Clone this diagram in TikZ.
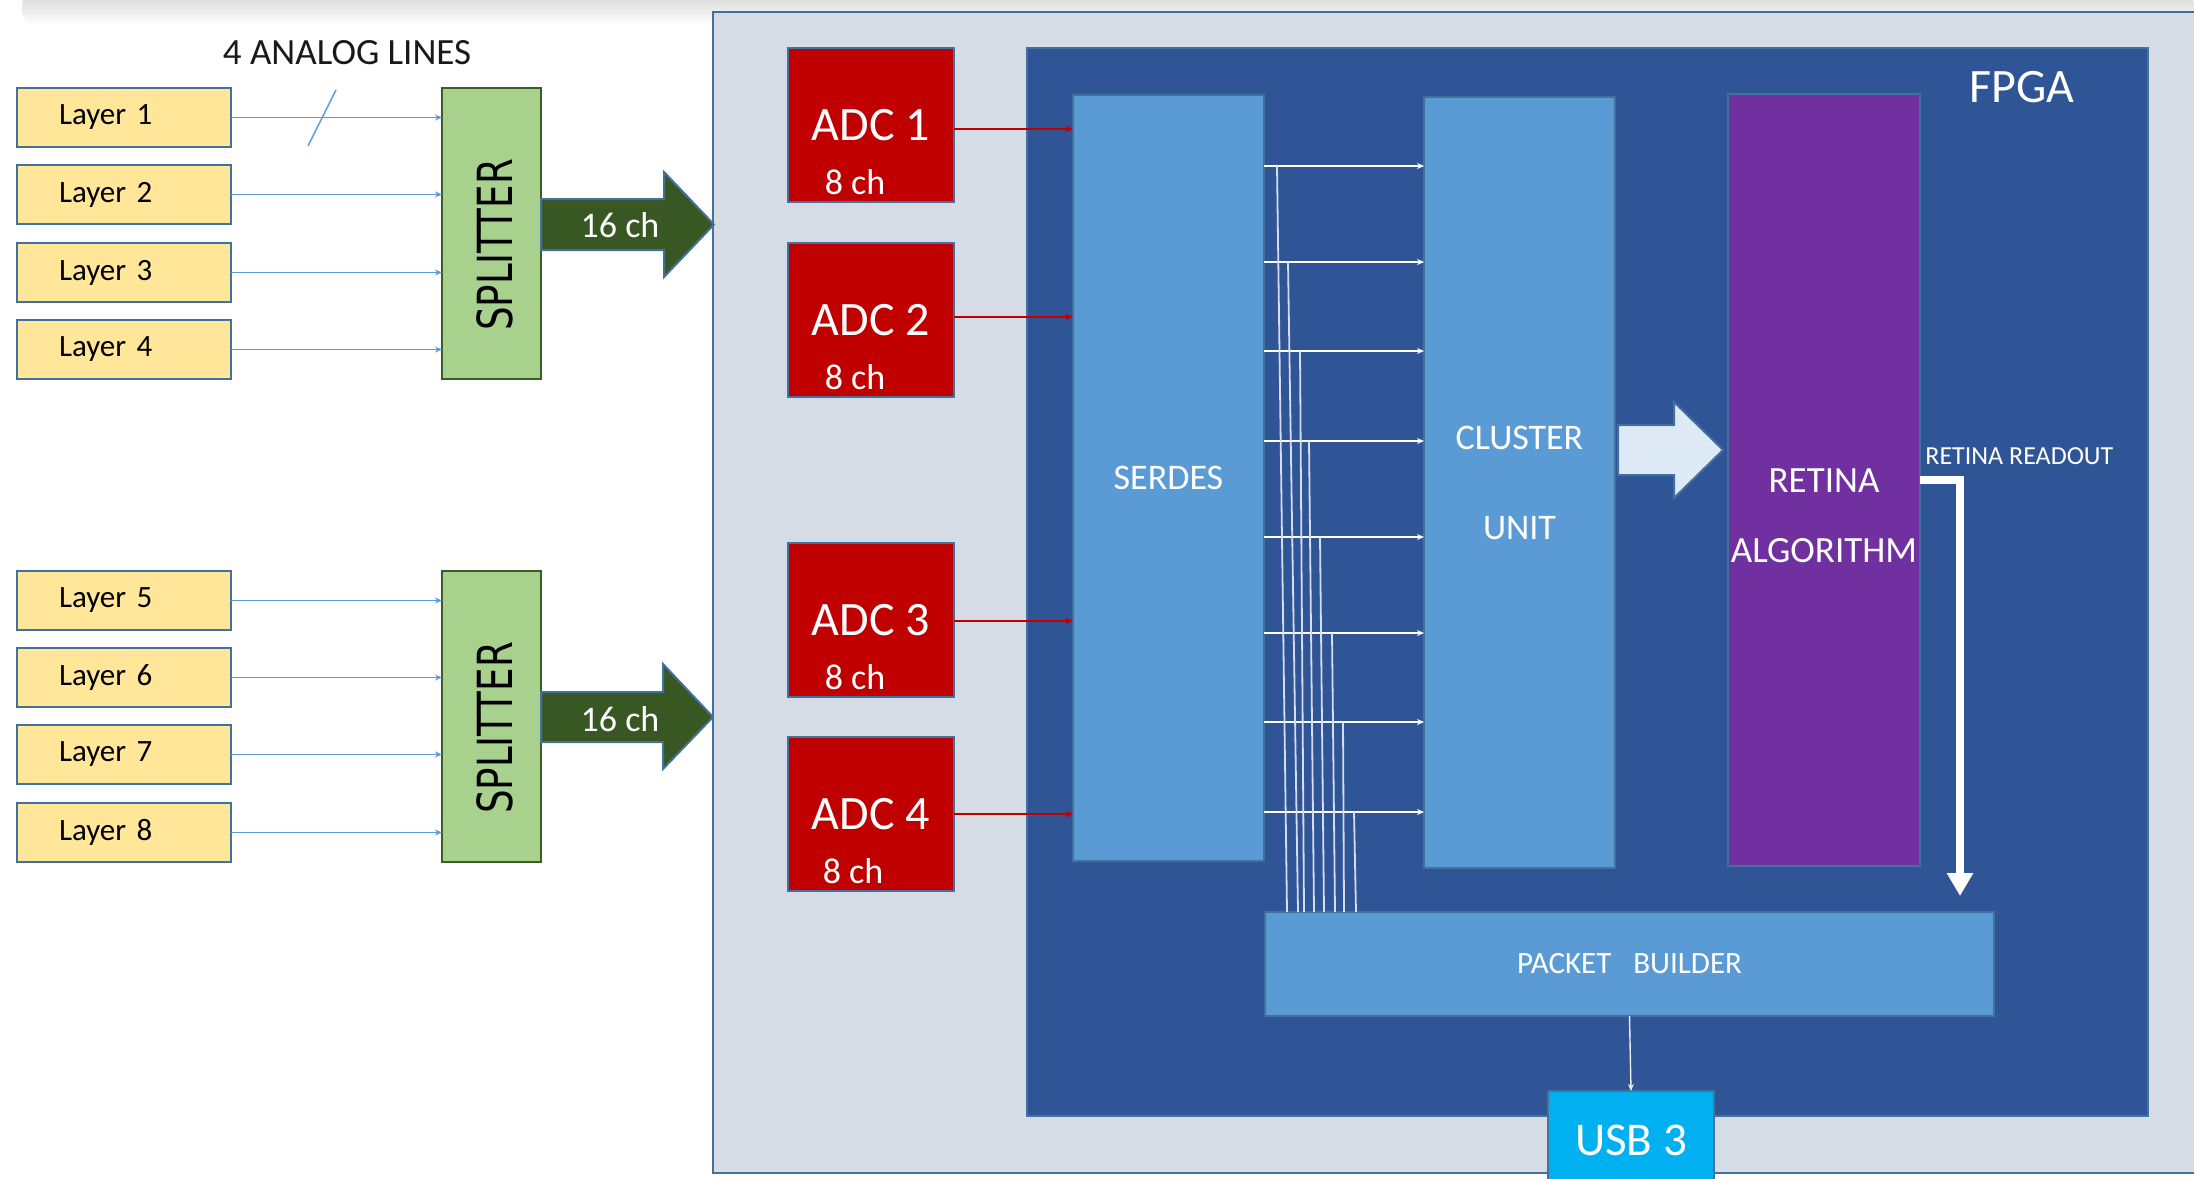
\documentclass[tikz,border=0pt]{standalone}
\usepackage{fontspec}
\setmainfont{Carlito}
\newfontfamily\splitfont{DejaVu Sans}
\usetikzlibrary{arrows.meta}
\definecolor{bord}{HTML}{41719C}
\definecolor{layerfill}{HTML}{FFE699}
\definecolor{splitfill}{HTML}{A9D18E}
\definecolor{splitbord}{HTML}{3B5E27}
\definecolor{arrowgreen}{HTML}{385723}
\definecolor{outerfill}{HTML}{D6DCE5}
\definecolor{adcred}{HTML}{C00000}
\definecolor{fpgablue}{HTML}{2F5597}
\definecolor{blockblue}{HTML}{5B9BD5}
\definecolor{retinapurple}{HTML}{7030A0}
\definecolor{lightarrow}{HTML}{DEEBF7}
\definecolor{usbcyan}{HTML}{00B0F0}
\definecolor{wirecol}{HTML}{D5DCEA}
\definecolor{linkblue}{HTML}{5B9BD5}
\begin{document}
\begin{tikzpicture}[x=0.5pt,y=-0.5pt,
  box/.style={draw=bord, line width=1.2pt, inner sep=0pt, outer sep=0pt},
  layerbox/.style={box, fill=layerfill, minimum width=107pt, minimum height=29.5pt,
    text width=65pt, inner xsep=21pt, align=left, font=\fontsize{15.5}{18}\selectfont},
  splitbox/.style={box, draw=splitbord, fill=splitfill, minimum width=49.5pt, minimum height=145.5pt},
  splittext/.style={rotate=90, inner sep=0pt, font=\splitfont\fontsize{18.6}{20}\selectfont},
  adcbox/.style={box, fill=adcred, minimum width=83pt, minimum height=77pt, text=white,
    font=\fontsize{24}{28}\selectfont},
  chtext/.style={text=white, inner sep=0pt, font=\fontsize{18}{20}\selectfont},
  inner/.style={box, fill=blockblue, text=white},
  layerline/.style={draw=linkblue, line width=0.7pt, -{Stealth[length=3.5pt,width=3pt]}},
  redline/.style={draw=adcred, line width=0.8pt, -{Stealth[length=4pt,width=3.5pt]}},
  wline/.style={draw=white, line width=0.7pt, -{Stealth[length=3.5pt,width=3pt]}},
  vline/.style={draw=wirecol, line width=0.9pt},
  readout/.style={draw=white, line width=3.8pt, line join=miter, -{Triangle[length=11.5pt,width=12.5pt]}},
  blockarrow/.style={draw=bord, line width=1pt, fill=arrowgreen}
]
\useasboundingbox (0,0) rectangle (2194,1178);
\clip (0,0) rectangle (2194,1178);
\fill[white] (0,0) rectangle (2194,1178);
\shade[top color=black!17, bottom color=white, rounded corners=8pt] (22,-10) rectangle (2194,26);

% outer board
\filldraw[fill=outerfill, draw=bord, line width=1.2pt] (713,12) rectangle (2300,1173);

% title
\node[font=\fontsize{18.5}{22}\selectfont, text=black!90] (analog) at (347,53) {4 ANALOG LINES};

% layers
\node[layerbox] (l1) at (124,117.5) {Layer 1};
\node[layerbox] (l2) at (124,194.5) {Layer 2};
\node[layerbox] (l3) at (124,272.5) {Layer 3};
\node[layerbox] (l4) at (124,349.5) {Layer 4};
\node[layerbox] (l5) at (124,600.5) {Layer 5};
\node[layerbox] (l6) at (124,677.5) {Layer 6};
\node[layerbox] (l7) at (124,754.5) {Layer 7};
\node[layerbox] (l8) at (124,832.5) {Layer 8};

% splitters
\node[splitbox] (s1) at (491.5,233.5) {};
\node[splitbox] (s2) at (491.5,716.5) {};
\node[splittext] (s1t) at (495,245) {\scalebox{1}[1.3]{SPLITTER}};
\node[splittext] (s2t) at (495,728) {\scalebox{1}[1.3]{SPLITTER}};

% layer lines
\foreach \l/\s in {l1/s1,l2/s1,l3/s1,l4/s1,l5/s2,l6/s2,l7/s2,l8/s2}
  \draw[layerline] (\l.east) -- (\s.west |- \l.east);
\draw[draw=linkblue, line width=0.7pt] (336,90) -- (308,146);

% green block arrows
\draw[blockarrow] (541,199) -- (664,199) -- (664,172) -- (714,224.5) -- (664,277) -- (664,250) -- (541,250) -- cycle;
\draw[blockarrow] (541,692) -- (663,692) -- (663,664) -- (713,717) -- (663,769) -- (663,742) -- (541,742) -- cycle;
\node[chtext] (ch1) at (620,225) {16 ch};
\node[chtext] (ch2) at (620,719) {16 ch};

% ADCs
\node[adcbox] (a1) at (871,125) {ADC 1};
\node[adcbox] (a2) at (871,320) {ADC 2};
\node[adcbox] (a3) at (871,620) {ADC 3};
\node[adcbox] (a4) at (871,814) {ADC 4};
\node[chtext] (a1c) at (855,182) {8 ch};
\node[chtext] (a2c) at (855,377) {8 ch};
\node[chtext] (a3c) at (855,677) {8 ch};
\node[chtext] (a4c) at (853,871) {8 ch};

% FPGA
\node[box, fill=fpgablue, minimum width=560.5pt, minimum height=534pt] (fpga) at (1587.5,582) {};
\node[text=white, font=\fontsize{24}{28}\selectfont] (fpgat) at (2022,87) {FPGA};

\node[inner, minimum width=95.5pt, minimum height=383pt, font=\fontsize{18}{20}\selectfont] (serdes) at (1168.5,478) {SERDES};
\node[inner, minimum width=95.5pt, minimum height=385.5pt, align=center, font=\fontsize{18}{45}\selectfont] (cluster) at (1519.5,482.5) {CLUSTER\\UNIT};
\node[box, fill=retinapurple, minimum width=96pt, minimum height=386pt] (retina) at (1824,480) {};
\node[text=white, align=center, font=\fontsize{18.5}{35}\selectfont] (retinat) at (1824,516) {RETINA\\ALGORITHM};
\node[inner, minimum width=364.5pt, minimum height=52pt, font=\fontsize{15.5}{18}\selectfont] (pb) at (1629.5,964) {PACKET\hspace{11pt}BUILDER};
\node[box, fill=usbcyan, text=white, minimum width=83pt, minimum height=49pt, font=\fontsize{23.5}{26}\selectfont] (usb) at (1631,1140) {USB 3};

% ADC -> SERDES
\draw[redline] (a1.east |- 0,129) -- (serdes.west |- 0,129);
\draw[redline] (a2.east |- 0,317) -- (serdes.west |- 0,317);
\draw[redline] (a3.east |- 0,621) -- (serdes.west |- 0,621);
\draw[redline] (a4.east |- 0,814) -- (serdes.west |- 0,814);

% SERDES -> CLUSTER
\foreach \y in {166,262,351,441,537,633,722,812}
  \draw[wline] (serdes.east |- 0,\y) -- (cluster.west |- 0,\y);
% taps to packet builder
\foreach \xa/\ya/\xb in {1277/166/1287,1288/262/1298,1300/351/1304,1309/441/1314,1320/537/1324,1332/633/1335,1343/722/1344,1354/812/1356}
  \draw[vline] (\xa,\ya) -- (pb.north -| \xb,0);

% CLUSTER -> RETINA block arrow
\draw[draw=bord, line width=1pt, fill=lightarrow] (1618,425) -- (1674,425) -- (1674,402) -- (1723,450) -- (1674,498) -- (1674,475) -- (1618,475) -- cycle;

% RETINA readout
\node[text=white, font=\fontsize{13}{15}\selectfont, anchor=west, inner sep=0pt] (rdt) at (1925,456) {RETINA READOUT};
\coordinate (rdend) at (1960,896);
\draw[readout] (retina.east |- 0,480) -- (1960,480) -- (rdend);

% PB -> USB
\draw[wline, draw=white!85!gray] (pb.south) -- (usb.north);
\end{tikzpicture}
\end{document}
